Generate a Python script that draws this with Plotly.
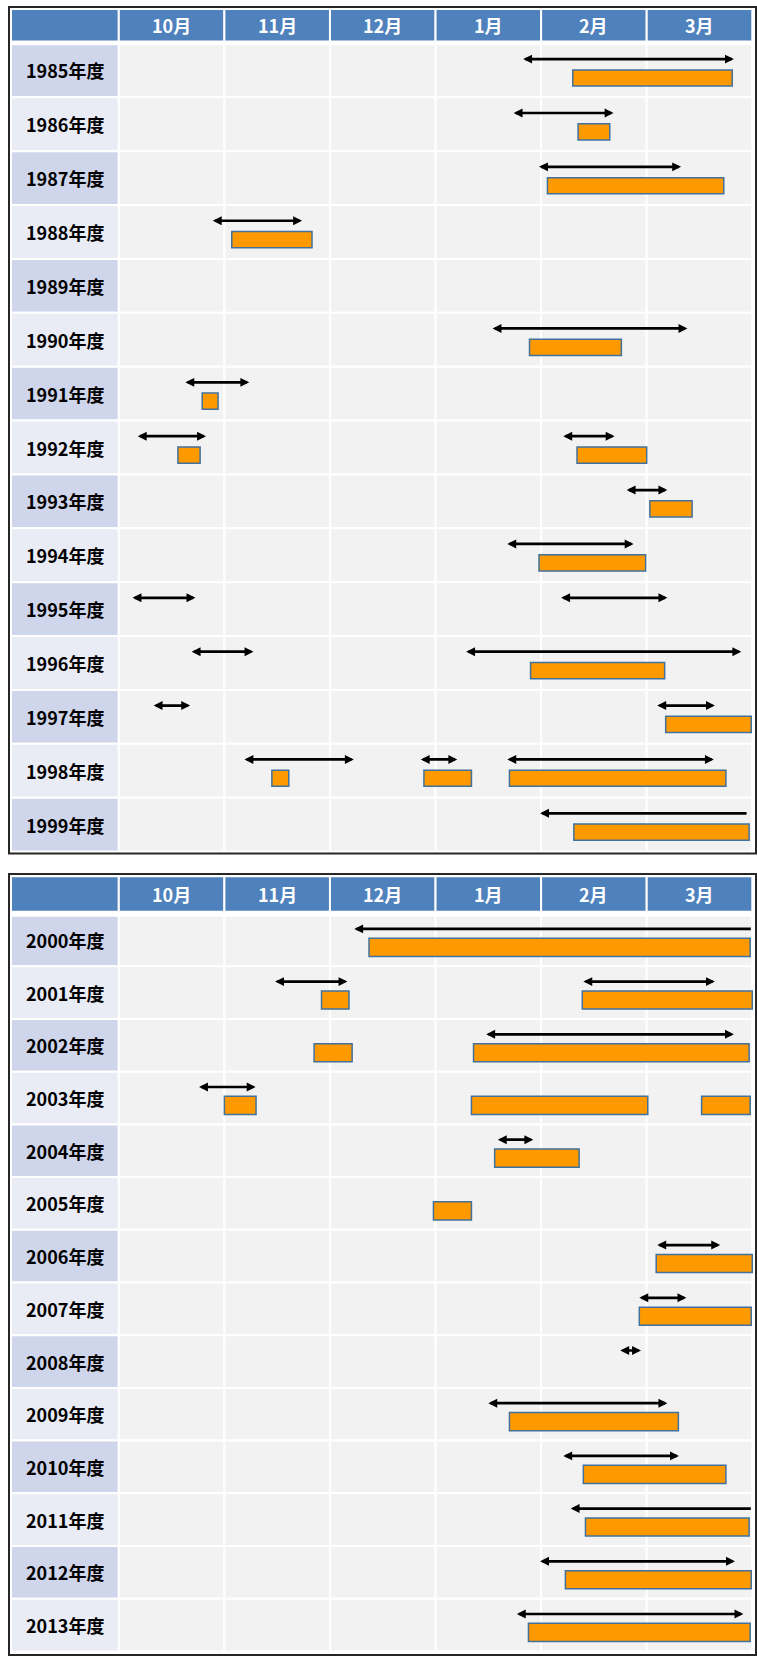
import plotly.graph_objects as go

# ---- data -------------------------------------------------------------
# Positions are in months counted from 1 October (0 = start of 10月, 6 = end of 3月)
months = ["10月", "11月", "12月", "1月", "2月", "3月"]
years_a = list(range(1985, 2000))
years_b = list(range(2000, 2014))

# period arrows: fiscal year, start, end, open on the right (head on left only)
arrow_year = [1985, 1986, 1987, 1988, 1990, 1991, 1992, 1992, 1993, 1994,
              1995, 1995, 1996, 1996, 1997, 1997, 1998, 1998, 1998, 1999,
              2000, 2001, 2001, 2002, 2003, 2004, 2006, 2007, 2008, 2009,
              2010, 2011, 2012, 2013]
arrow_start = [3.83, 3.74, 3.98, 0.89, 3.54, 0.63, 0.18, 4.21, 4.81, 3.68,
               0.13, 4.19, 0.69, 3.29, 0.33, 5.10, 1.19, 2.86, 3.68, 3.99,
               2.23, 1.48, 4.40, 3.48, 0.76, 3.59, 5.10, 4.93, 4.75, 3.50,
               4.21, 4.28, 3.99, 3.77]
arrow_end = [5.84, 4.70, 5.34, 1.75, 5.40, 1.25, 0.84, 4.71, 5.21, 4.89,
             0.74, 5.21, 1.29, 5.91, 0.69, 5.66, 2.24, 3.22, 5.65, 5.96,
             6.00, 2.18, 5.66, 5.84, 1.31, 3.94, 5.71, 5.39, 4.96, 5.21,
             5.32, 6.00, 5.85, 5.93]
arrow_open = [False] * 19 + [True, True] + [False] * 10 + [True, False, False]

# orange bars: fiscal year, start, end
bar_year = [1985, 1986, 1987, 1988, 1990, 1991, 1992, 1992, 1993, 1994,
            1996, 1997, 1998, 1998, 1998, 1999,
            2000, 2001, 2001, 2002, 2002, 2003, 2003, 2003, 2004, 2005,
            2006, 2007, 2009, 2010, 2011, 2012, 2013]
bar_start = [4.30, 4.35, 4.06, 1.07, 3.89, 0.79, 0.56, 4.34, 5.03, 3.98,
             3.90, 5.18, 1.45, 2.89, 3.70, 4.31,
             2.37, 1.92, 4.39, 1.85, 3.36, 1.00, 3.34, 5.52, 3.56, 2.98,
             5.09, 4.93, 3.70, 4.40, 4.42, 4.23, 3.88]
bar_end = [5.81, 4.65, 5.73, 1.83, 4.76, 0.94, 0.77, 5.00, 5.43, 4.99,
           5.17, 5.99, 1.61, 3.34, 5.75, 5.97,
           5.98, 2.18, 6.00, 2.21, 5.97, 1.30, 5.01, 5.98, 4.36, 3.34,
           6.00, 5.99, 5.30, 5.75, 5.97, 5.99, 5.98]

# ---- styling / geometry -------------------------------------------------
W, H = 757, 1661
X0_PX, COL_PX = 118.8, 105.58          # pixel of month 0 and width of a month column
FONT = "Noto Sans CJK JP"
HEADER_BLUE = "#4F81BD"
CELL_GRAY = "#F2F2F2"
LABEL_DARK = "#CFD5EA"
LABEL_LIGHT = "#E9EBF5"
BAR_FILL = "#FF9900"
BAR_EDGE = "#41719C"

# per-table vertical geometry (pixels from top): first row boundary, row pitch,
# frame top/bottom, header top/bottom, top of first row of cells
tables = [
    dict(years=years_a, yref="y", top=43.5, pitch=53.87, frame=(7.0, 853.5),
         header=(9.0, 41.5), first=44.3, bar_h=0.30),
    dict(years=years_b, yref="y2", top=913.6, pitch=52.7, frame=(874.0, 1655.0),
         header=(876.3, 911.7), first=915.7, bar_h=0.345),
]
ARROW_OFF = -0.21   # arrow sits above row centre
BAR_OFF = 0.14      # bar sits below row centre


def xpx(p):
    return (p - X0_PX) / COL_PX


def ypx(t, p):
    return (p - t["top"]) / t["pitch"]


LABEL_L = xpx(11.0)

fig = go.Figure()
shapes, annotations = [], []

for t in tables:
    yr = t["yref"]
    # outer frame
    shapes.append(dict(type="rect", xref="x", yref=yr, x0=xpx(9.0), x1=xpx(756.0),
                       y0=ypx(t, t["frame"][0]), y1=ypx(t, t["frame"][1]),
                       line=dict(color="#262626", width=2), fillcolor="rgba(0,0,0,0)",
                       layer="above"))
    # header band
    h0, h1 = ypx(t, t["header"][0]), ypx(t, t["header"][1])
    edges = [LABEL_L] + list(range(len(months) + 1))
    for k in range(len(edges) - 1):
        shapes.append(dict(type="rect", xref="x", yref=yr, x0=edges[k], x1=edges[k + 1],
                           y0=h0, y1=h1, fillcolor=HEADER_BLUE,
                           line=dict(color="white", width=2), layer="below"))
    for k, m in enumerate(months):
        annotations.append(dict(x=k + 0.5, y=(h0 + h1) / 2, xref="x", yref=yr, text=m,
                                showarrow=False, xanchor="center", yanchor="middle",
                                font=dict(family=FONT, size=18, color="white", weight="bold")))
    # body rows
    for i, year in enumerate(t["years"]):
        r0 = ypx(t, t["first"]) if i == 0 else i
        r1 = i + 1
        shapes.append(dict(type="rect", xref="x", yref=yr, x0=LABEL_L, x1=0, y0=r0, y1=r1,
                           fillcolor=LABEL_DARK if i % 2 == 0 else LABEL_LIGHT,
                           line=dict(color="white", width=2), layer="below"))
        for k in range(len(months)):
            shapes.append(dict(type="rect", xref="x", yref=yr, x0=k, x1=k + 1, y0=r0, y1=r1,
                               fillcolor=CELL_GRAY, line=dict(color="white", width=2),
                               layer="below"))
        annotations.append(dict(x=(LABEL_L + 0) / 2, y=i + 0.5, xref="x", yref=yr,
                                text=f"{year}年度", showarrow=False, xanchor="center",
                                yanchor="middle",
                                font=dict(family=FONT, size=18, color="black", weight="bold")))

    # bars for this table
    idx = [j for j, y in enumerate(bar_year) if y in t["years"]]
    fig.add_trace(go.Bar(
        orientation="h",
        y=[t["years"].index(bar_year[j]) + 0.5 + BAR_OFF for j in idx],
        base=[bar_start[j] for j in idx],
        x=[bar_end[j] - bar_start[j] for j in idx],
        width=t["bar_h"],
        marker=dict(color=BAR_FILL, line=dict(color=BAR_EDGE, width=1.5)),
        yaxis=yr, xaxis="x", hoverinfo="skip",
    ))

    # period arrows for this table
    for j, y in enumerate(arrow_year):
        if y not in t["years"]:
            continue
        yy = t["years"].index(y) + 0.5 + ARROW_OFF
        annotations.append(dict(
            x=arrow_start[j], y=yy, ax=arrow_end[j], ay=yy,
            xref="x", yref=yr, axref="x", ayref=yr, text="", showarrow=True,
            arrowside="end" if arrow_open[j] else "end+start",
            arrowhead=2, startarrowhead=2, arrowsize=0.66, startarrowsize=0.66,
            arrowwidth=2.7, arrowcolor="black", standoff=0, startstandoff=0,
        ))

t1, t2 = tables
fig.update_layout(
    width=W, height=H, margin=dict(l=0, r=0, t=0, b=0), autosize=False,
    paper_bgcolor="white", plot_bgcolor="white", showlegend=False, barmode="overlay",
    xaxis=dict(range=[xpx(0), xpx(W)], visible=False, fixedrange=True),
    yaxis=dict(range=[ypx(t1, H), ypx(t1, 0)], visible=False, fixedrange=True),
    yaxis2=dict(range=[ypx(t2, H), ypx(t2, 0)], visible=False, fixedrange=True,
                overlaying="y"),
    shapes=shapes, annotations=annotations,
)

fig.write_html("out.html")
